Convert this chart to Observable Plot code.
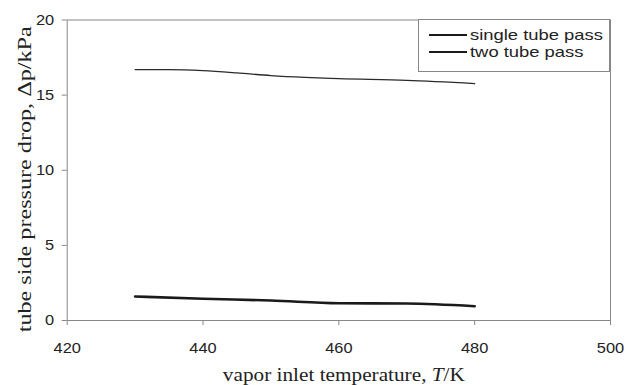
<!DOCTYPE html>
<html><head><meta charset="utf-8">
<script src="https://cdn.jsdelivr.net/npm/d3@7"></script>
<script src="https://cdn.jsdelivr.net/npm/@observablehq/plot@0.6"></script>
<style>
body{margin:0;background:#fff;}
#chart{position:relative;width:626px;height:385px;}
#chart svg{color:#888;}
#chart svg text{fill:#222;stroke:none;}
.legend{position:absolute;left:418px;top:19px;width:192px;height:53px;border:1px solid #888;background:#fff;box-sizing:border-box;font-family:"Liberation Sans",Arial,sans-serif;font-size:14.6px;color:#222;}
.row{position:absolute;left:10px;height:18px;display:flex;align-items:center;white-space:nowrap;}
.sw{display:inline-block;width:38px;margin-right:3px;background:#1a1a1a;}
.lab{display:inline-block;transform-origin:0 50%;}
</style>
</head><body>
<div id="chart"></div>
<script>
const xTicks = [420, 440, 460, 480, 500];
const yTicks = [0, 5, 10, 15, 20];
const seriesNames = ["single tube pass", "two tube pass"];
const tempSingle = [430, 440, 450, 460, 470, 480];
const dpSingle = [1.6, 1.45, 1.33, 1.15, 1.13, 0.95];
const tempTwo = [430, 435, 440, 445, 450, 455, 460, 470, 480];
const dpTwo = [16.7, 16.7, 16.63, 16.48, 16.3, 16.18, 16.1, 15.98, 15.77];

const single = tempSingle.map((t, i) => ({T: t, dp: dpSingle[i]}));
const two = tempTwo.map((t, i) => ({T: t, dp: dpTwo[i]}));

const xTitle = "vapor inlet temperature, T/K";
const yTitle = "tube side pressure drop, Δp/kPa";

const svg = Plot.plot({
  width: 626,
  height: 385,
  marginLeft: 66.7,
  marginRight: 16,
  marginTop: 19.5,
  marginBottom: 65,
  style: {fontFamily: '"Liberation Sans", Arial, sans-serif', fontSize: "14.5px", background: "#fff"},
  x: {domain: [420, 500]},
  y: {domain: [0, 20]},
  marks: [
    Plot.frame({stroke: "#888"}),
    Plot.axisX({ticks: xTicks, tickSize: 5, tickPadding: 17, tickFormat: d => String(d),
      label: xTitle, labelAnchor: "center", labelArrow: "none", labelOffset: 60}),
    Plot.axisY({ticks: yTicks, tickSize: 5, tickPadding: 8, tickFormat: d => String(d),
      label: yTitle, labelAnchor: "center", labelArrow: "none", labelOffset: 49}),
    Plot.line(two, {x: "T", y: "dp", stroke: "#2a2a2a", strokeWidth: 1.3, curve: "monotone-x"}),
    Plot.line(single, {x: "T", y: "dp", stroke: "#1a1a1a", strokeWidth: 2.6, curve: "monotone-x"})
  ]
});

const chart = document.getElementById("chart");
chart.appendChild(svg);

const serif = '"Liberation Serif", "Times New Roman", serif';
d3.select(svg).selectAll("text").each(function() {
  const t = this.textContent;
  const sel = d3.select(this);
  if (t === xTitle) {
    sel.text(null).style("font-family", serif).style("font-size", "18px");
    sel.append("tspan").text("vapor inlet temperature, ");
    sel.append("tspan").style("font-style", "italic").text("T");
    sel.append("tspan").text("/K");
    sel.attr("textLength", 242).attr("lengthAdjust", "spacingAndGlyphs");
    const tr = sel.attr("transform") || "";
    sel.attr("transform", "translate(5,0) " + tr);
  } else if (t === yTitle) {
    sel.style("font-family", serif).style("font-size", "18px")
      .attr("textLength", 306).attr("lengthAdjust", "spacingAndGlyphs");
    const tr = sel.attr("transform") || "";
    sel.attr("transform", "translate(0,9) " + tr);
  } else if (/^\d+$/.test(t)) {
    const w = this.getComputedTextLength();
    sel.attr("textLength", w * 1.13).attr("lengthAdjust", "spacingAndGlyphs");
  }
});

const legend = document.createElement("div");
legend.className = "legend";
seriesNames.forEach((name, i) => {
  const row = document.createElement("div");
  row.className = "row";
  row.style.top = (i === 0 ? 6 : 23) + "px";
  const sw = document.createElement("span");
  sw.className = "sw";
  sw.style.height = (i === 0 ? 2.6 : 1.3) + "px";
  const lab = document.createElement("span");
  lab.className = "lab";
  lab.textContent = name;
  lab.style.transform = "scaleX(1.26)";
  row.appendChild(sw);
  row.appendChild(lab);
  legend.appendChild(row);
});
chart.appendChild(legend);
</script>
</body></html>
